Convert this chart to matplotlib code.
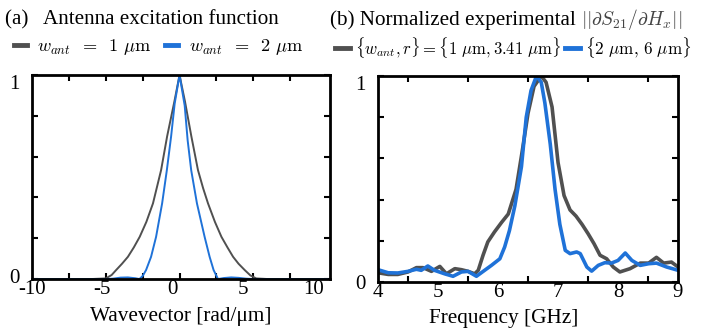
import matplotlib
matplotlib.use("Agg")
import matplotlib.pyplot as plt
import matplotlib.transforms as mtransforms
import numpy as np

plt.rcParams['font.family'] = ['Liberation Serif', 'DejaVu Serif']
plt.rcParams['mathtext.fontset'] = 'cm'

# (a) antenna excitation function
k_gray = [-10, -6, -5.0, -4.6, -4.3, -3.9, -3.5, -3.1, -2.7, -2.25, -1.8, -1.25, -0.84, -0.35, 0,
          0.37, 0.8, 1.25, 1.6, 1.93, 2.4, 2.84, 3.25, 3.63, 4.0, 4.42, 4.8, 5.2, 6, 10]
a_gray = [0, 0, 0.003, 0.02, 0.044, 0.075, 0.109, 0.155, 0.207, 0.28, 0.371, 0.534, 0.70, 0.87, 1.0,
          0.87, 0.70, 0.534, 0.445, 0.371, 0.28, 0.207, 0.155, 0.109, 0.075, 0.044, 0.018, 0.003, 0, 0]
k_blue = [-10, -5, -4.5, -4.0, -3.5, -3.0, -2.72, -2.5, -2.27, -1.93, -1.59, -1.18, -0.86, -0.57,
          -0.33, 0, 0.35, 0.55, 0.79, 1.18, 1.7, 2.04, 2.31, 2.61, 3.0, 3.5, 4.0, 4.5, 5, 10]
a_blue = [0, 0, 0.002, 0.007, 0.008, 0.004, 0.0, 0.015, 0.044, 0.109, 0.207, 0.371, 0.534, 0.70,
          0.86, 1.0, 0.85, 0.68, 0.534, 0.371, 0.207, 0.109, 0.044, 0.0, 0.005, 0.008, 0.006, 0.002, 0, 0]

# (b) normalized experimental |dS21/dHx|
f_gray = [4.0, 4.17, 4.33, 4.5, 4.64, 4.75, 4.89, 5.03, 5.14, 5.28, 5.39, 5.5, 5.61, 5.67, 5.75, 5.83,
          5.94, 6.06, 6.17, 6.3, 6.4, 6.5, 6.6, 6.72, 6.8, 6.9, 7.0, 7.1, 7.2, 7.3, 7.4, 7.5, 7.6,
          7.7, 7.81, 7.92, 8.03, 8.2, 8.37, 8.51, 8.64, 8.76, 8.89, 9.0]
s_gray = [0.045, 0.037, 0.037, 0.049, 0.07, 0.07, 0.052, 0.076, 0.04, 0.065, 0.06, 0.052, 0.04, 0.057,
          0.13, 0.195, 0.243, 0.29, 0.33, 0.45, 0.63, 0.82, 0.95, 1.0, 0.97, 0.85, 0.58, 0.42, 0.35,
          0.32, 0.28, 0.235, 0.186, 0.13, 0.113, 0.073, 0.049, 0.065, 0.092, 0.092, 0.12, 0.092,
          0.097, 0.073]
f_blue = [4.0, 4.17, 4.33, 4.5, 4.64, 4.72, 4.83, 4.94, 5.11, 5.25, 5.39, 5.5, 5.64, 5.72, 5.89,
          6.03, 6.11, 6.19, 6.28, 6.39, 6.47, 6.55, 6.64, 6.72, 6.78, 6.87, 6.95, 7.03, 7.12, 7.2,
          7.31, 7.37, 7.48, 7.56, 7.67, 7.78, 7.89, 8.0, 8.12, 8.23, 8.37, 8.51, 8.64, 8.81, 9.0]
s_blue = [0.06, 0.045, 0.044, 0.052, 0.062, 0.057, 0.078, 0.057, 0.04, 0.028, 0.049, 0.052, 0.028,
          0.045, 0.081, 0.113, 0.17, 0.25, 0.37, 0.56, 0.8, 0.93, 1.0, 0.97, 0.87, 0.67, 0.45, 0.28,
          0.154, 0.138, 0.146, 0.138, 0.073, 0.053, 0.081, 0.094, 0.092, 0.105, 0.141, 0.105,
          0.081, 0.089, 0.092, 0.073, 0.057]

k_labels = [-10, -5, 0, 5, 10]
f_labels = [4, 5, 6, 7, 8, 9]

gray = '#505050'
blue = '#1f72d8'

fig = plt.figure(figsize=(7.02, 3.33), dpi=100)
ax1 = fig.add_axes([0.0456, 0.162, 0.4245, 0.6126])
ax2 = fig.add_axes([0.5385, 0.153, 0.4274, 0.6186])

l1, = ax1.plot(k_gray, a_gray, color=gray, lw=1.4)
l2, = ax1.plot(k_blue, a_blue, color=blue, lw=1.4)
ax1.set_xlim(-10, 10.2)
ax1.set_ylim(0, 1)
# labels in the original sit a bit left of their tick marks
ax1.set_xticks([-10 + (v + 10) * 0.953 for v in k_labels])
ax1.set_xticklabels([str(v) for v in k_labels])
ax1.set_xticks(np.arange(-7.5, 10, 2.5), minor=True)

m1, = ax2.plot(f_gray, s_gray, color=gray, lw=2.6)
m2, = ax2.plot(f_blue, s_blue, color=blue, lw=2.6)
ax2.set_xlim(4, 9)
ax2.set_ylim(0, 1)
ax2.set_xticks(f_labels)
ax2.set_xticks(np.arange(4.5, 9, 0.5), minor=True)

for ax in (ax1, ax2):
    ax.set_yticks([0, 1])
    ax.set_yticklabels(['0', '1'])
    ax.set_yticks([0.2, 0.4, 0.6, 0.8], minor=True)
    ax.tick_params(which='both', direction='in', top=True, right=True, length=4, width=1.5,
                   labelsize=15, pad=1)
    ax.tick_params(axis='x', which='major', length=0)
    ax.tick_params(axis='y', pad=9)
    for sp in ax.spines.values():
        sp.set_linewidth(2)
    ylabs = ax.get_yticklabels()
    ylabs[1].set_transform(ylabs[1].get_transform() +
                           mtransforms.ScaledTranslation(0, -7 / 100, fig.dpi_scale_trans))
ylab0 = ax1.get_yticklabels()[0]
ylab0.set_transform(ylab0.get_transform() +
                    mtransforms.ScaledTranslation(0, 3 / 100, fig.dpi_scale_trans))

ax1.set_xlabel('Wavevector [rad/μm]', fontsize=15.3)
ax2.set_xlabel('Frequency [GHz]', fontsize=15.3)
ax1.xaxis.set_label_coords(0.5, -0.135)
ax2.xaxis.set_label_coords(0.42, -0.13)

fig.text(0.007, 0.925, '(a)   Antenna excitation function', fontsize=15.2, va='baseline')
fig.text(0.470, 0.925, '(b) Normalized experimental', fontsize=15.2, va='baseline')
fig.text(0.827, 0.925, r'$||\partial S_{21}/\partial H_x||$', fontsize=14, va='baseline',
         color='#444444')

leg1 = fig.legend([l1, l2], [r'$w_{ant}\;\;=\;\;1\ \mu\mathrm{m}$', r'$w_{ant}\;\;=\;\;2\ \mu\mathrm{m}$'],
                  loc='center left', bbox_to_anchor=(0.009, 0.858), ncol=2, frameon=False,
                  fontsize=13.2, handlelength=0.75, handletextpad=0.55, columnspacing=0.7,
                  borderaxespad=0)
leg2 = fig.legend([m1, m2], [r'$\{w_{ant}, r\} = \{1\ \mu\mathrm{m}, 3.41\ \mu\mathrm{m}\}$',
                             r'$\{2\ \mu\mathrm{m},\,6\ \mu\mathrm{m}\}$'],
                  loc='center left', bbox_to_anchor=(0.467, 0.858), ncol=2, frameon=False,
                  fontsize=12, handlelength=0.9, handletextpad=0.3, columnspacing=0.25,
                  borderaxespad=0)
leg2.get_texts()[1].set_fontsize(12.3)
for h in leg1.legend_handles + leg2.legend_handles:
    h.set_linewidth(3.5)

fig.savefig('out.png', dpi=100)
